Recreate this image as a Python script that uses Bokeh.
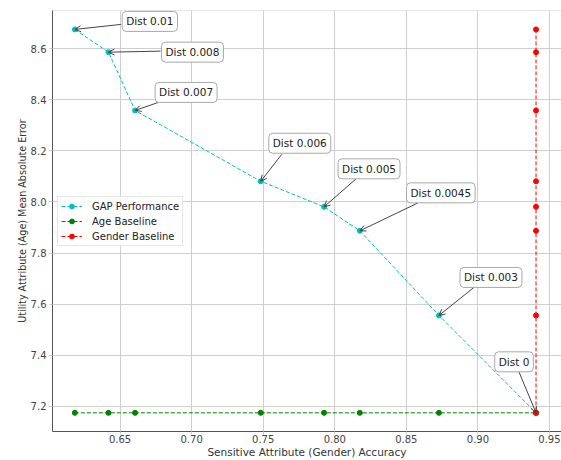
from bokeh.plotting import figure
from bokeh.models import (Label, Arrow, OpenHead, FixedTicker, PrintfTickFormatter, Span)
from bokeh.embed import file_html
from bokeh.resources import INLINE

# ---- data ----
gap_acc = [0.6184, 0.6419, 0.6605, 0.7483, 0.7925, 0.8175, 0.8728, 0.9406]
gap_mae = [8.675, 8.586, 8.358, 8.081, 7.981, 7.887, 7.556, 7.175]
age_base_acc = [0.6184, 0.6419, 0.6605, 0.7483, 0.7925, 0.8175, 0.8728, 0.9406]
age_base_mae = [7.175, 7.175, 7.175, 7.175, 7.175, 7.175, 7.175, 7.175]
gender_base_acc = [0.9406, 0.9406, 0.9406, 0.9406, 0.9406, 0.9406, 0.9406, 0.9406]
gender_base_mae = [8.675, 8.586, 8.358, 8.081, 7.981, 7.887, 7.556, 7.175]
dist_labels = ["Dist 0.01", "Dist 0.008", "Dist 0.007", "Dist 0.006",
               "Dist 0.005", "Dist 0.0045", "Dist 0.003", "Dist 0"]
x_ticks = [0.65, 0.70, 0.75, 0.80, 0.85, 0.90, 0.95]
y_ticks = [7.2, 7.4, 7.6, 7.8, 8.0, 8.2, 8.4, 8.6]

# ---- layout (screen offsets of annotation boxes / arrow tails, in px) ----
box_off = [(75, 8), (84, 0), (51, 18), (39, 38), (45, 38), (81, 38), (52, 38), (-22, 51)]
tail_off = [(46, 5), (52, 1), (23, 8), (21, 27), (32, 28), (58, 28), (36, 29), (-17, 41)]

W, H = 561, 460
BL, BR, BT, BB = 52, 0, 10, 27
x0, x1 = 0.6028, 0.9584
y0, y1 = 7.102, 8.749
fw, fh = W - BL - BR, H - BT - BB
xpp = (x1 - x0) / fw
ypp = (y1 - y0) / fh

FONT = "DejaVu Sans"

p = figure(width=W, height=H, output_backend="svg", toolbar_location=None,
           x_range=(x0, x1), y_range=(y0, y1),
           min_border_left=BL, min_border_right=BR, min_border_top=BT, min_border_bottom=BB)
p.outline_line_color = None
p.background_fill_color = "white"
p.border_fill_color = "white"

for ax in (p.xaxis[0], p.yaxis[0]):
    ax.axis_line_color = "#555555"
    ax.axis_line_width = 1
    ax.major_tick_in = 0
    ax.major_tick_out = 3
    ax.major_tick_line_color = "#cccccc"
    ax.minor_tick_line_color = None
    ax.major_label_text_font = FONT
    ax.major_label_text_font_size = "10px"
    ax.major_label_text_color = "#444444"
    ax.axis_label_text_font = FONT
    ax.axis_label_text_font_style = "normal"
    ax.axis_label_text_color = "#333333"

p.xaxis.axis_label_text_font_size = "10.5px"
p.yaxis.axis_label_text_font_size = "9.6px"
p.xaxis.ticker = FixedTicker(ticks=x_ticks)
p.yaxis.ticker = FixedTicker(ticks=y_ticks)
p.xaxis.formatter = PrintfTickFormatter(format="%.2f")
p.yaxis.formatter = PrintfTickFormatter(format="%.1f")
p.xaxis.major_label_standoff = 0
p.xaxis.axis_label_standoff = 0
p.yaxis.major_label_standoff = 3
p.yaxis.axis_label_standoff = 0
p.xaxis.axis_label = "Sensitive Attribute (Gender) Accuracy"
p.yaxis.axis_label = "Utility Attribute (Age) Mean Absolute Error"

p.xgrid.ticker = FixedTicker(ticks=x_ticks)
p.ygrid.ticker = FixedTicker(ticks=y_ticks)
p.grid.grid_line_color = "#cfcfcf"
p.grid.grid_line_width = 1

p.add_layout(Span(location=y1, dimension="width", line_color="#cccccc", line_width=1))

CY, GR, RD = "#00bfbf", "#008000", "#ff0000"
p.line(gap_acc, gap_mae, line_color=CY, line_dash="4 2", line_width=1, legend_label="GAP Performance")
p.scatter(gap_acc, gap_mae, size=5, color=CY, legend_label="GAP Performance")
p.line(age_base_acc, age_base_mae, line_color=GR, line_dash="4 2", line_width=1, legend_label="Age Baseline")
p.scatter(age_base_acc, age_base_mae, size=5, color=GR, legend_label="Age Baseline")
p.line(gender_base_acc, gender_base_mae, line_color=RD, line_dash="4 2", line_width=1, legend_label="Gender Baseline")
p.scatter(gender_base_acc, gender_base_mae, size=5, color=RD, legend_label="Gender Baseline")

for xa, ya, txt, (bx, by), (tx, ty) in zip(gap_acc, gap_mae, dist_labels, box_off, tail_off):
    p.add_layout(Arrow(end=OpenHead(size=6, line_color="#444444", line_width=1),
                       x_start=xa + tx * xpp, y_start=ya + ty * ypp,
                       x_end=xa, y_end=ya, line_color="#444444", line_width=1))
    p.add_layout(Label(x=xa, y=ya, x_offset=bx, y_offset=by, text=txt,
                       text_align="center", text_baseline="middle", anchor="center",
                       text_font=FONT, text_font_size="10.5px", text_color="#222222",
                       padding=4, border_radius=4,
                       background_fill_color="white", background_fill_alpha=1.0,
                       border_line_color="#a8a8a8", border_line_width=1))

lg = p.legend[0]
lg.location = (5, 185)
lg.padding = 3
lg.spacing = 3
lg.margin = 0
lg.glyph_width = 21
lg.glyph_height = 12
lg.label_height = 12
lg.label_standoff = 10
lg.label_text_font = FONT
lg.label_text_font_size = "10px"
lg.label_text_color = "#222222"
lg.border_line_color = "#d0d0d0"
lg.background_fill_alpha = 0.85

open("out.html", "w").write(file_html(p, INLINE))
